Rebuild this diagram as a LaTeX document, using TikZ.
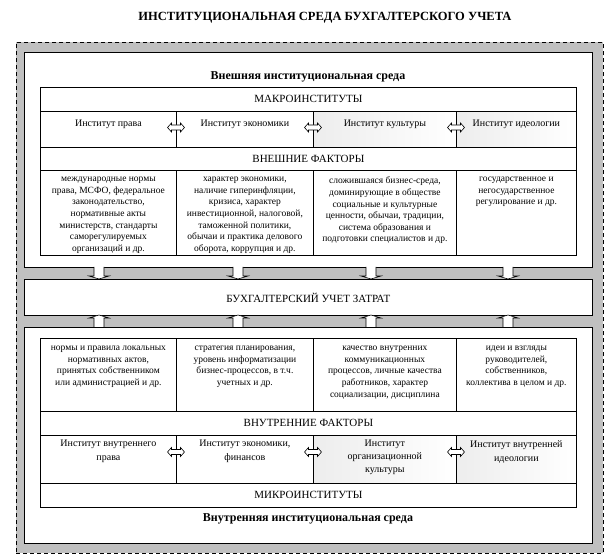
\documentclass[tikz,border=0pt]{standalone}
\usepackage{fontspec}
\setmainfont{Liberation Serif}
\usetikzlibrary{positioning}
\definecolor{framegray}{HTML}{C0C0C0}
\definecolor{cellshade}{HTML}{EDEDED}

\begin{document}
\begin{tikzpicture}[x=1pt, y=-1pt,
  envbox/.style={draw, fill=white, line width=0.9pt, anchor=north west, inner sep=0},
  cell/.style={draw, line width=0.8pt, anchor=north west, inner sep=0},
  shcell/.style={cell, left color=cellshade, right color=white},
  head/.style={font=\fontsize{11}{13}\selectfont},
  inst/.style={align=center, inner sep=0, font=\fontsize{10}{14}\selectfont},
  fac/.style={align=center, inner sep=0, font=\fontsize{9.5}{11.6}\selectfont},
  env/.style={font=\bfseries\fontsize{12}{14}\selectfont},
  blk/.style={draw, fill=white, line width=0.6pt, line join=miter}
]
\useasboundingbox (0,0) rectangle (611,556);

\node[font=\bfseries\fontsize{12.5}{15}\selectfont] (title) at (325,18)
  {ИНСТИТУЦИОНАЛЬНАЯ СРЕДА БУХГАЛТЕРСКОГО УЧЕТА};

\node[draw, fill=framegray, dash pattern=on 4pt off 3pt, line width=0.8pt, anchor=north west,
      inner sep=0, minimum width=587pt, minimum height=511pt] (frame) at (16,42) {};

% внешняя среда
\node[envbox, minimum width=568pt, minimum height=215pt] (extbox) at (24,52) {};
\node[env] (extlabel) at (308,77) {Внешняя институциональная среда};

\node[cell, minimum width=536pt, minimum height=24pt, head] (macro) at (40,87) {МАКРОИНСТИТУТЫ};
\node[cell, minimum width=136pt, minimum height=36pt] (ui1) at (40,111) {};
\node[cell, minimum width=137pt, minimum height=36pt] (ui2) at (176,111) {};
\node[shcell, minimum width=143pt, minimum height=36pt] (ui3) at (313,111) {};
\node[shcell, minimum width=120pt, minimum height=36pt] (ui4) at (456,111) {};
\node[inst, below=9pt of ui1.north] (uit1) {Институт права};
\node[inst, below=9pt of ui2.north] (uit2) {Институт экономики};
\node[inst, below=9pt of ui3.north] (uit3) {Институт культуры};
\node[inst, below=9pt of ui4.north] (uit4) {Институт идеологии};

\node[cell, minimum width=536pt, minimum height=23pt, head] (exthead) at (40,147) {ВНЕШНИЕ ФАКТОРЫ};
\node[cell, minimum width=136pt, minimum height=85pt] (uf1) at (40,170) {};
\node[cell, minimum width=137pt, minimum height=85pt] (uf2) at (176,170) {};
\node[cell, minimum width=143pt, minimum height=85pt] (uf3) at (313,170) {};
\node[cell, minimum width=120pt, minimum height=85pt] (uf4) at (456,170) {};
\node[fac, below=7pt of uf1.north] (uft1) {международные нормы\\права, МСФО, федеральное\\законодательство,\\нормативные акты\\министерств, стандарты\\саморегулируемых\\организаций и др.};
\node[fac, below=7pt of uf2.north] (uft2) {характер экономики,\\наличие гиперинфляции,\\кризиса, характер\\инвестиционной, налоговой,\\таможенной политики,\\обычаи и практика делового\\оборота, коррупция и др.};
\node[fac, below=7pt of uf3.north] (uft3) {сложившаяся бизнес-среда,\\доминирующие в обществе\\социальные и культурные\\ценности, обычаи, традиции,\\система образования и\\подготовки специалистов и др.};
\node[fac, below=7pt of uf4.north] (uft4) {государственное и\\негосударственное\\регулирование и др.};

% учет затрат
\node[envbox, minimum width=568pt, minimum height=36pt, font=\fontsize{11}{13}\selectfont] (acc) at (24,279) {БУХГАЛТЕРСКИЙ УЧЕТ ЗАТРАТ};

% внутренняя среда
\node[envbox, minimum width=568pt, minimum height=216pt] (intbox) at (24,327) {};

\node[cell, minimum width=136pt, minimum height=73pt] (lf1) at (40,338) {};
\node[cell, minimum width=137pt, minimum height=73pt] (lf2) at (176,338) {};
\node[cell, minimum width=143pt, minimum height=73pt] (lf3) at (313,338) {};
\node[cell, minimum width=120pt, minimum height=73pt] (lf4) at (456,338) {};
\node[fac, below=8pt of lf1.north] (lft1) {нормы и правила локальных\\нормативных актов,\\принятых собственником\\или администрацией и др.};
\node[fac, below=8pt of lf2.north] (lft2) {стратегия планирования,\\уровень информатизации\\бизнес-процессов, в т.ч.\\учетных и др.};
\node[fac, below=8pt of lf3.north] (lft3) {качество внутренних\\коммуникационных\\процессов, личные качества\\работников, характер\\социализации, дисциплина};
\node[fac, below=8pt of lf4.north] (lft4) {идеи и взгляды\\руководителей,\\собственников,\\коллектива в целом и др.};

\node[cell, minimum width=536pt, minimum height=24pt, head] (inthead) at (40,411) {ВНУТРЕННИЕ ФАКТОРЫ};
\node[cell, minimum width=136pt, minimum height=48pt] (li1) at (40,435) {};
\node[cell, minimum width=137pt, minimum height=48pt] (li2) at (176,435) {};
\node[shcell, minimum width=143pt, minimum height=48pt] (li3) at (313,435) {};
\node[shcell, minimum width=120pt, minimum height=48pt] (li4) at (456,435) {};
\node[inst, below=5pt of li1.north] (lit1) {Институт внутреннего\\права};
\node[inst, below=5pt of li2.north] (lit2) {Институт экономики,\\финансов};
\node[inst, below=5pt of li3.north, font=\fontsize{10}{13}\selectfont] (lit3) {Институт\\организационной\\культуры};
\node[inst, below=5pt of li4.north] (lit4) {Институт внутренней\\идеологии};
\node[cell, minimum width=536pt, minimum height=24pt, head] (micro) at (40,483) {МИКРОИНСТИТУТЫ};
\node[env] (intlabel) at (308,519) {Внутренняя институциональная среда};

% стрелки
\foreach \x in {176,313,456} {
  \coordinate (ua\x) at (\x,127.5);
  \coordinate (la\x) at (\x,452);
  \foreach \c in {ua\x,la\x}
    \draw[blk] (\c) ++(-4.5,-2.5) -- ++(9,0) -- ++(0,-2) -- ++(4,4.5) -- ++(-4,4.5)
      -- ++(0,-2) -- ++(-9,0) -- ++(0,2) -- ++(-4,-4.5) -- ++(4,-4.5) -- cycle;
}
\foreach \x [count=\i] in {99,238,371,508} {
  \coordinate (dn\i) at (\x,267);
  \coordinate (up\i) at (\x,327);
  \draw[blk] (dn\i) ++(-5,0) -- ++(0,9) -- ++(-5,0) -- ++(10,3) -- ++(10,-3) -- ++(-5,0) -- ++(0,-9);
  \draw[blk] (up\i) ++(-5,0) -- ++(0,-9) -- ++(-5,0) -- ++(10,-3) -- ++(10,3) -- ++(-5,0) -- ++(0,9);
}
\end{tikzpicture}
\end{document}
